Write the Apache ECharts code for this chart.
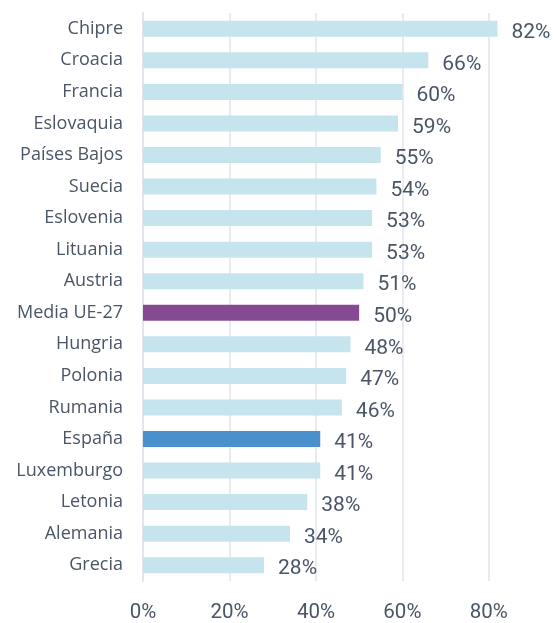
<!DOCTYPE html>
<html>
<head>
<meta charset="utf-8">
<script src="https://cdn.jsdelivr.net/npm/echarts@6/dist/echarts.min.js"></script>
<style>
html,body{margin:0;padding:0;background:#fff;overflow:hidden;}
#chart{width:560px;height:623px;}
</style>
</head>
<body>
<div id="chart"></div>
<script>
const categories = ["Chipre","Croacia","Francia","Eslovaquia","Países Bajos","Suecia","Eslovenia","Lituania","Austria","Media UE-27","Hungria","Polonia","Rumania","España","Luxemburgo","Letonia","Alemania","Grecia"];
const values = [82,66,60,59,55,54,53,53,51,50,48,47,46,41,41,38,34,28];
const xTicks = [0,20,40,60,80];

const textColor = '#4a5568';
const chart = echarts.init(document.getElementById('chart'));
chart.setOption({
  animation:false,
  grid:{left:143,right:2,top:13,bottom:33,containLabel:false},
  xAxis:{
    type:'value',min:0,max:96,interval:20,
    axisLine:{show:false},axisTick:{show:false},
    splitLine:{show:true,lineStyle:{color:'#e2e5eb',width:1.5}},
    axisLabel:{
      margin:21,fontSize:20.5,color:textColor,fontFamily:'Roboto',
      showMaxLabel:false,
      formatter:function(v){return xTicks.indexOf(v)>=0 ? v+'%' : '';}
    }
  },
  yAxis:{
    type:'category',data:categories,inverse:true,
    axisLine:{show:true,lineStyle:{color:'#e2e5eb',width:2}},
    axisTick:{show:false},
    axisLabel:{margin:20,fontSize:18,color:textColor,fontFamily:'Open Sans'}
  },
  series:[{
    type:'bar',data:values,barWidth:16,
    itemStyle:{color:function(p){
      if(p.name==='Media UE-27') return '#844b93';
      if(p.name==='España') return '#4891cc';
      return '#c6e4ee';
    }},
    label:{show:true,position:'right',distance:14,offset:[0,4],
      formatter:'{c}%',fontSize:21,color:textColor,fontFamily:'Roboto'}
  }]
});
</script>
</body>
</html>
